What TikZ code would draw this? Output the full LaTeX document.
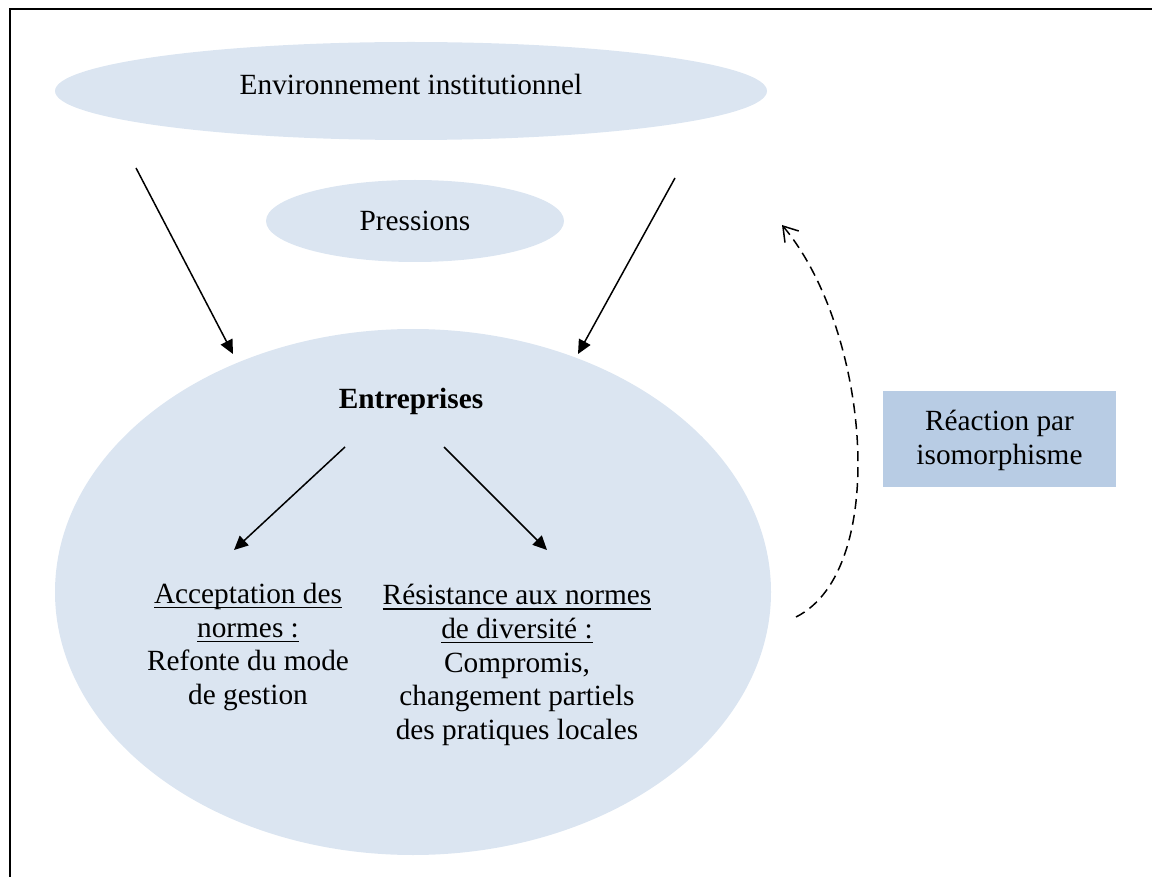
\documentclass[tikz,border=0pt]{standalone}
\usepackage{fontspec}
\setmainfont{Liberation Serif}
\usetikzlibrary{arrows.meta}
\definecolor{ellfill}{HTML}{DBE5F1}
\definecolor{boxfill}{HTML}{B8CCE4}
\newcommand\myul[1]{\setbox0\hbox{#1}\rlap{\rule[-5pt]{\wd0}{1.4pt}}\box0}
\tikzset{
  ell/.style={fill=ellfill, draw=none},
  txt/.style={font=\fontsize{29.3}{33.7}\selectfont, inner sep=0pt},
  multi/.style={txt, align=center, text height=22pt, text depth=7pt},
  solidarrow/.style={line width=1.5pt, -{Triangle[length=14pt,width=13pt]}},
  dasharrow/.style={line width=1.5pt, dash pattern=on 10pt off 6pt, -{Straight Barb[length=14pt,width=18pt]}},
  frameline/.style={line width=2pt}
}
\begin{document}
\begin{tikzpicture}[x=1pt,y=-1pt]
\useasboundingbox (0,0) rectangle (1152,877);
% frame (top and left edges only)
\coordinate (fTR) at (1152,9.5);
\coordinate (fTL) at (9.5,9.5);
\coordinate (fBL) at (9.5,877);
\draw[frameline] (fTR) -- (fTL) -- (fBL);
% ellipses
\fill[ell] (411,91) ellipse [x radius=356, y radius=49];
\fill[ell] (415,221) ellipse [x radius=149, y radius=41];
\fill[ell] (413,592) ellipse [x radius=358, y radius=263];
% box
\node[fill=boxfill, minimum width=233pt, minimum height=96pt, inner sep=0pt] (box) at (999.5,439) {};
% texts
\node[txt, anchor=base] (env) at (411,95) {Environnement institutionnel};
\node[txt, anchor=base] (press) at (415,231) {Pressions};
\node[txt, anchor=base, font=\fontsize{29.3}{33.7}\selectfont\bfseries] (ent) at (411,409) {Entreprises};
\node[multi] (accept) at (248,697) {\myul{Acceptation des}\\\myul{normes :}\\Refonte du mode\\de gestion};
\node[multi] (resist) at (517,732) {\myul{Résistance aux normes}\\\myul{de diversité :}\\Compromis,\\changement partiels\\des pratiques locales};
\node[multi] (react) at (999.5,457) {Réaction par\\isomorphisme};
% arrow endpoints
\coordinate (a1s) at (136,168); \coordinate (a1e) at (233,354);
\coordinate (a2s) at (675,178); \coordinate (a2e) at (578,354);
\coordinate (a3s) at (345,447); \coordinate (a3e) at (234,550);
\coordinate (a4s) at (444,447); \coordinate (a4e) at (547,550);
\coordinate (ds) at (796,617); \coordinate (de) at (782,225);
\draw[solidarrow] (a1s) -- (a1e);
\draw[solidarrow] (a2s) -- (a2e);
\draw[solidarrow] (a3s) -- (a3e);
\draw[solidarrow] (a4s) -- (a4e);
\draw[dasharrow] (ds) .. controls (890,570) and (870,330) .. (de);
\end{tikzpicture}
\end{document}
